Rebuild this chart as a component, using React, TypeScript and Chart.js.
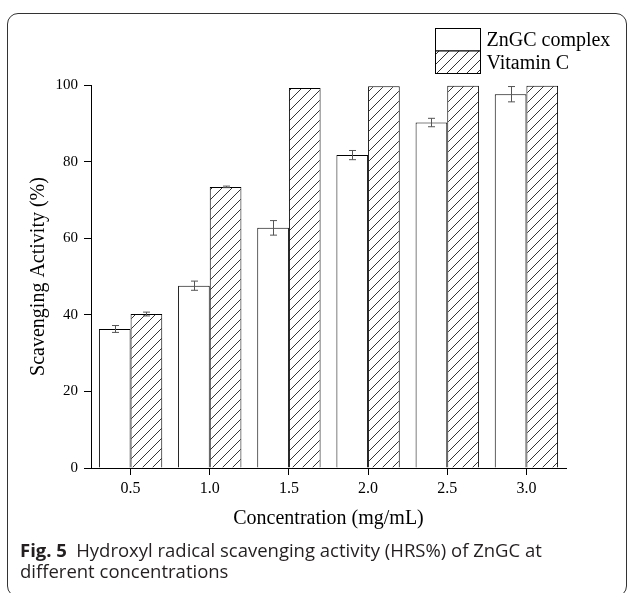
import React, { useEffect, useRef } from "react";
import { Chart, registerables } from "chart.js";

Chart.register(...registerables);

// ---- data ----
const concentrations = ["0.5", "1.0", "1.5", "2.0", "2.5", "3.0"];
const seriesNames = ["ZnGC complex", "Vitamin C"];
const zngcValues = [36.3, 47.6, 62.7, 81.7, 90.2, 97.6];
const zngcErrors = [0.9, 1.2, 1.9, 1.2, 1.1, 2.0];
const vitcValues = [40.2, 73.4, 99.2, 99.7, 99.8, 99.8];
const vitcErrors = [0.5, 0.2, 0, 0, 0, 0];
const yTicks = [0, 20, 40, 60, 80, 100];
const xTitle = "Concentration (mg/mL)";
const yTitle = "Scavenging Activity (%)";
const captionBold = "Fig. 5";
const captionLine1 = "Hydroxyl radical scavenging activity (HRS%) of ZnGC at";
const captionLine2 = "different concentrations";

const SERIF = "'Liberation Serif', 'Times New Roman', serif";

function makeHatch(): CanvasPattern | string {
  const s = 10;
  const c = document.createElement("canvas");
  c.width = s;
  c.height = s;
  const g = c.getContext("2d");
  if (!g) return "#fff";
  g.fillStyle = "#fff";
  g.fillRect(0, 0, s, s);
  g.strokeStyle = "#333";
  g.lineWidth = 1;
  g.beginPath();
  g.moveTo(0, s);
  g.lineTo(s, 0);
  g.moveTo(-1, 1);
  g.lineTo(1, -1);
  g.moveTo(s - 1, s + 1);
  g.lineTo(s + 1, s - 1);
  g.stroke();
  return g.createPattern(c, "repeat") || "#fff";
}

const errorBarPlugin = {
  id: "errorBars",
  afterDatasetsDraw(chart: any) {
    const ctx = chart.ctx;
    const yScale = chart.scales.y;
    chart.data.datasets.forEach((ds: any, i: number) => {
      const meta = chart.getDatasetMeta(i);
      meta.data.forEach((bar: any, j: number) => {
        const e = ds.errors ? ds.errors[j] : 0;
        if (!e) return;
        const v = ds.data[j];
        const x = Math.round(bar.x) + 0.5;
        const yt = yScale.getPixelForValue(v + e);
        const yb = yScale.getPixelForValue(v - e);
        ctx.save();
        ctx.strokeStyle = "#555";
        ctx.lineWidth = 1;
        ctx.beginPath();
        ctx.moveTo(x, yt);
        ctx.lineTo(x, yb);
        ctx.moveTo(x - 3.5, yt);
        ctx.lineTo(x + 3.5, yt);
        ctx.moveTo(x - 3.5, yb);
        ctx.lineTo(x + 3.5, yb);
        ctx.stroke();
        ctx.restore();
      });
    });
  },
};

const legendPlugin = {
  id: "boxLegend",
  afterDraw(chart: any) {
    const ctx = chart.ctx;
    const area = chart.chartArea;
    const bw = 45;
    const bh = 22.5;
    const x0 = Math.round(area.right - 131) + 0.5;
    const y0 = Math.round(area.top - 57) + 0.5;
    chart.data.datasets.forEach((ds: any, i: number) => {
      const y = y0 + i * bh;
      ctx.save();
      ctx.fillStyle = ds.backgroundColor;
      ctx.fillRect(x0, y, bw, bh);
      ctx.strokeStyle = "#000";
      ctx.lineWidth = 1;
      ctx.strokeRect(x0, y, bw, bh);
      ctx.fillStyle = "#000";
      ctx.font = `20px ${SERIF}`;
      ctx.textBaseline = "middle";
      ctx.textAlign = "left";
      ctx.fillText(ds.label, x0 + bw + 6, y + bh / 2 + 1);
      ctx.restore();
    });
  },
};

export default function App() {
  const canvasRef = useRef<HTMLCanvasElement | null>(null);

  useEffect(() => {
    if (!canvasRef.current) return;
    const hatch = makeHatch();
    const chart = new Chart(canvasRef.current, {
      type: "bar",
      data: {
        labels: concentrations,
        datasets: [
          {
            label: seriesNames[0],
            data: zngcValues,
            errors: zngcErrors,
            backgroundColor: "#ffffff",
            borderColor: "#000",
            borderWidth: 1,
            categoryPercentage: 0.8,
            barPercentage: 1.0,
          } as any,
          {
            label: seriesNames[1],
            data: vitcValues,
            errors: vitcErrors,
            backgroundColor: hatch,
            borderColor: "#000",
            borderWidth: 1,
            categoryPercentage: 0.8,
            barPercentage: 1.0,
          } as any,
        ],
      },
      options: {
        responsive: false,
        animation: false,
        layout: { padding: { top: 85, right: 61, bottom: 0, left: 0 } },
        plugins: {
          legend: { display: false },
          tooltip: { enabled: false },
        },
        scales: {
          x: {
            type: "category",
            offset: true,
            grid: {
              display: true,
              drawOnChartArea: false,
              offset: false,
              color: "#000",
              tickLength: 7,
            },
            border: { display: true, color: "#000", width: 1 },
            ticks: {
              color: "#000",
              font: { family: SERIF, size: 16 },
              padding: 4,
              maxRotation: 0,
            },
            title: {
              display: true,
              text: xTitle,
              color: "#000",
              font: { family: SERIF, size: 20 },
              padding: { top: 0, bottom: 62 },
            },
            afterFit: (s: any) => {
              s.height = 125;
            },
          },
          y: {
            type: "linear",
            min: 0,
            max: 100,
            grid: {
              display: true,
              drawOnChartArea: false,
              color: "#000",
              tickLength: 7,
            },
            border: { display: true, color: "#000", width: 1 },
            ticks: {
              color: "#000",
              font: { family: SERIF, size: 15 },
              padding: 6,
            },
            afterBuildTicks: (s: any) => {
              s.ticks = yTicks.map((v) => ({ value: v }));
            },
            title: {
              display: true,
              text: yTitle,
              color: "#000",
              font: { family: SERIF, size: 20 },
              padding: { top: 27, bottom: 0 },
            },
            afterFit: (s: any) => {
              s.width = 91;
            },
          },
        },
      },
      plugins: [errorBarPlugin, legendPlugin],
    } as any);
    return () => chart.destroy();
  }, []);

  return (
    <div
      style={{
        position: "fixed",
        left: 0,
        top: 0,
        width: 627,
        height: 593,
        overflow: "hidden",
        background: "#fff",
      }}
    >
      <div
        style={{
          position: "absolute",
          left: 7,
          top: 13,
          width: 620,
          height: 584,
          boxSizing: "border-box",
          border: "1px solid #333",
          borderRadius: 11,
        }}
      />
      <canvas
        ref={canvasRef}
        width={627}
        height={593}
        style={{ position: "absolute", left: 0, top: 0, width: 627, height: 593 }}
      />
      <div
        style={{
          position: "absolute",
          left: 20,
          top: 539,
          fontFamily: "'Open Sans', sans-serif",
          fontSize: 18.5,
          lineHeight: "21px",
          color: "#231f20",
          whiteSpace: "nowrap",
        }}
      >
        <div>
          <b>{captionBold}</b>
          {"\u2002"}
          {captionLine1}
        </div>
        <div>{captionLine2}</div>
      </div>
    </div>
  );
}
